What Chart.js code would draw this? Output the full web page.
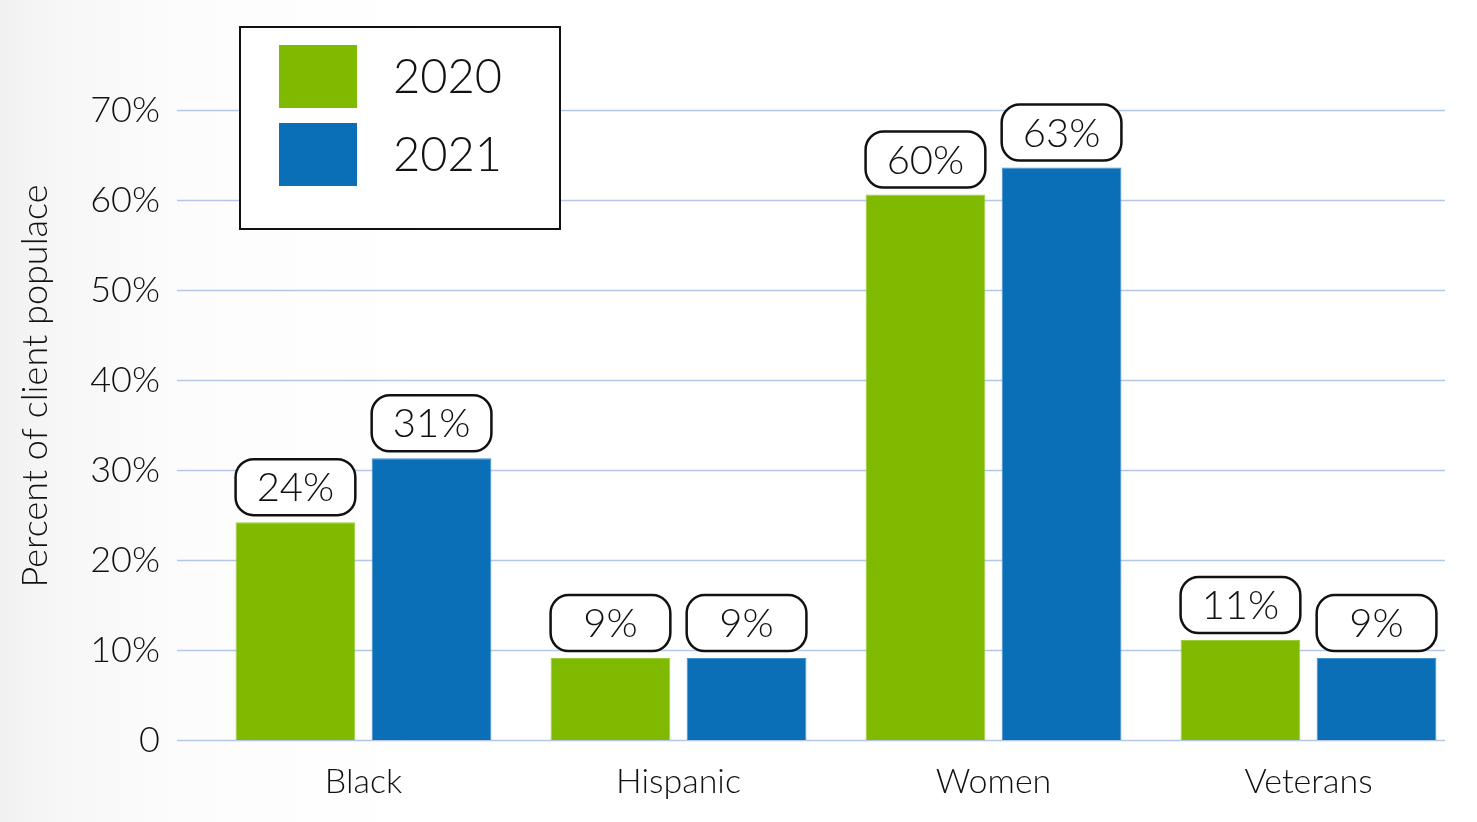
<!DOCTYPE html>
<html>
<head>
<meta charset="utf-8">
<script src="https://cdn.jsdelivr.net/npm/chart.js@4.4.1/dist/chart.umd.min.js"></script>
<style>
  html, body { margin: 0; padding: 0; }
  body {
    width: 1477px; height: 822px; overflow: hidden;
    background: linear-gradient(90deg, #f1f1f1 0px, #f7f7f7 60px, #fcfcfc 180px, #ffffff 420px);
  }
  canvas { display: block; }
</style>
</head>
<body>
<canvas id="demoChart" width="1477" height="822"></canvas>
<script>
document.addEventListener('DOMContentLoaded', function() {
    const ctx = document.getElementById('demoChart').getContext('2d');

    // chart data
    const categories = ['Black', 'Hispanic', 'Women', 'Veterans'];
    const values2020 = [24.2, 9.1, 60.6, 11.1];
    const values2021 = [31.3, 9.1, 63.6, 9.1];
    const seriesNames = ['2020', '2021'];
    const yTicks = [0, 10, 20, 30, 40, 50, 60, 70];
    const yTitle = 'Percent of client populace';

    const green = '#7fba00';
    const blue = '#0b6fb8';
    const gridColor = '#b4c7e7';
    const fontFamily = "Lato, 'Open Sans', sans-serif";
    const fontWeight = '300';

    // horizontal grid lines, a bit wider to the left than the bars' area
    const gridLines = {
        id: 'gridLines',
        beforeDatasetsDraw(chart) {
            const c = chart.ctx;
            const y = chart.scales.y;
            const left = chart.chartArea.left - 29;
            const right = chart.chartArea.right - 21;
            c.save();
            c.strokeStyle = gridColor;
            c.lineWidth = 1.5;
            yTicks.forEach(v => {
                const py = Math.round(y.getPixelForValue(v)) + 0.5;
                c.beginPath();
                c.moveTo(left, py);
                c.lineTo(right, py);
                c.stroke();
            });
            c.restore();
        },
        afterDraw(chart) {
            // axis title, drawn by hand so it sits where the original does
            const c = chart.ctx;
            c.save();
            c.translate(35, 386);
            c.rotate(-Math.PI / 2);
            c.fillStyle = '#111111';
            c.font = fontWeight + ' 36px ' + fontFamily;
            c.textAlign = 'center';
            c.textBaseline = 'middle';
            c.fillText(yTitle, 0, 0);
            c.restore();
        }
    };

    // rounded boxes with the (truncated) value above each bar
    const valueBoxes = {
        id: 'valueBoxes',
        afterDatasetsDraw(chart) {
            const c = chart.ctx;
            chart.data.datasets.forEach((ds, i) => {
                chart.getDatasetMeta(i).data.forEach((bar, j) => {
                    const w = bar.width;
                    const h = 56;
                    const x = bar.x - w / 2;
                    const y = bar.y - 7 - h;
                    c.save();
                    c.beginPath();
                    c.roundRect(x, y, w, h, 18);
                    c.fillStyle = '#ffffff';
                    c.fill();
                    c.lineWidth = 2.5;
                    c.strokeStyle = '#111111';
                    c.stroke();
                    c.fillStyle = '#111111';
                    c.font = fontWeight + ' 40px ' + fontFamily;
                    c.textAlign = 'center';
                    c.textBaseline = 'middle';
                    c.fillText(Math.floor(ds.data[j]) + '%', bar.x, y + h / 2 + 1);
                    c.restore();
                });
            });
        }
    };

    // boxed legend in the upper left
    const boxLegend = {
        id: 'boxLegend',
        afterDraw(chart) {
            const c = chart.ctx;
            c.save();
            c.fillStyle = '#ffffff';
            c.fillRect(240, 27, 320, 202);
            c.lineWidth = 2;
            c.strokeStyle = '#111111';
            c.strokeRect(240, 27, 320, 202);
            chart.data.datasets.forEach((ds, i) => {
                const top = 45 + i * 78;
                c.fillStyle = ds.backgroundColor;
                c.fillRect(279, top, 78, 63);
                c.fillStyle = '#111111';
                c.font = fontWeight + ' 47px ' + fontFamily;
                c.textAlign = 'left';
                c.textBaseline = 'middle';
                c.fillText(ds.label, 393, top + 33);
            });
            c.restore();
        }
    };

    new Chart(ctx, {
        type: 'bar',
        data: {
            labels: categories,
            datasets: [
                {
                    label: seriesNames[0],
                    data: values2020,
                    backgroundColor: green,
                    borderColor: '#9ccc3a',
                    borderWidth: 1,
                    categoryPercentage: 0.864,
                    barPercentage: 0.88
                },
                {
                    label: seriesNames[1],
                    data: values2021,
                    backgroundColor: blue,
                    borderColor: '#3d8fd0',
                    borderWidth: 1,
                    categoryPercentage: 0.864,
                    barPercentage: 0.88
                }
            ]
        },
        options: {
            responsive: false,
            animation: false,
            devicePixelRatio: 1,
            layout: { padding: { top: 110, right: 11, left: 0, bottom: 0 } },
            plugins: {
                legend: { display: false },
                tooltip: { enabled: false },
                title: { display: false }
            },
            scales: {
                x: {
                    grid: { display: false, drawTicks: false },
                    border: { display: false },
                    ticks: {
                        color: '#111111',
                        font: { family: fontFamily, size: 34, weight: fontWeight },
                        padding: 22
                    },
                    afterFit(scale) { scale.height = 82; }
                },
                y: {
                    min: 0,
                    max: 70,
                    afterBuildTicks(scale) {
                        scale.ticks = yTicks.map(v => ({ value: v }));
                    },
                    grid: { display: false, drawTicks: false },
                    border: { display: false },
                    ticks: {
                        color: '#111111',
                        font: { family: fontFamily, size: 36, weight: fontWeight },
                        padding: 46,
                        callback: v => v === 0 ? '0' : v + '%'
                    },
                    afterFit(scale) { scale.width = 206; }
                }
            }
        },
        plugins: [gridLines, valueBoxes, boxLegend]
    });
});
</script>
</body>
</html>
